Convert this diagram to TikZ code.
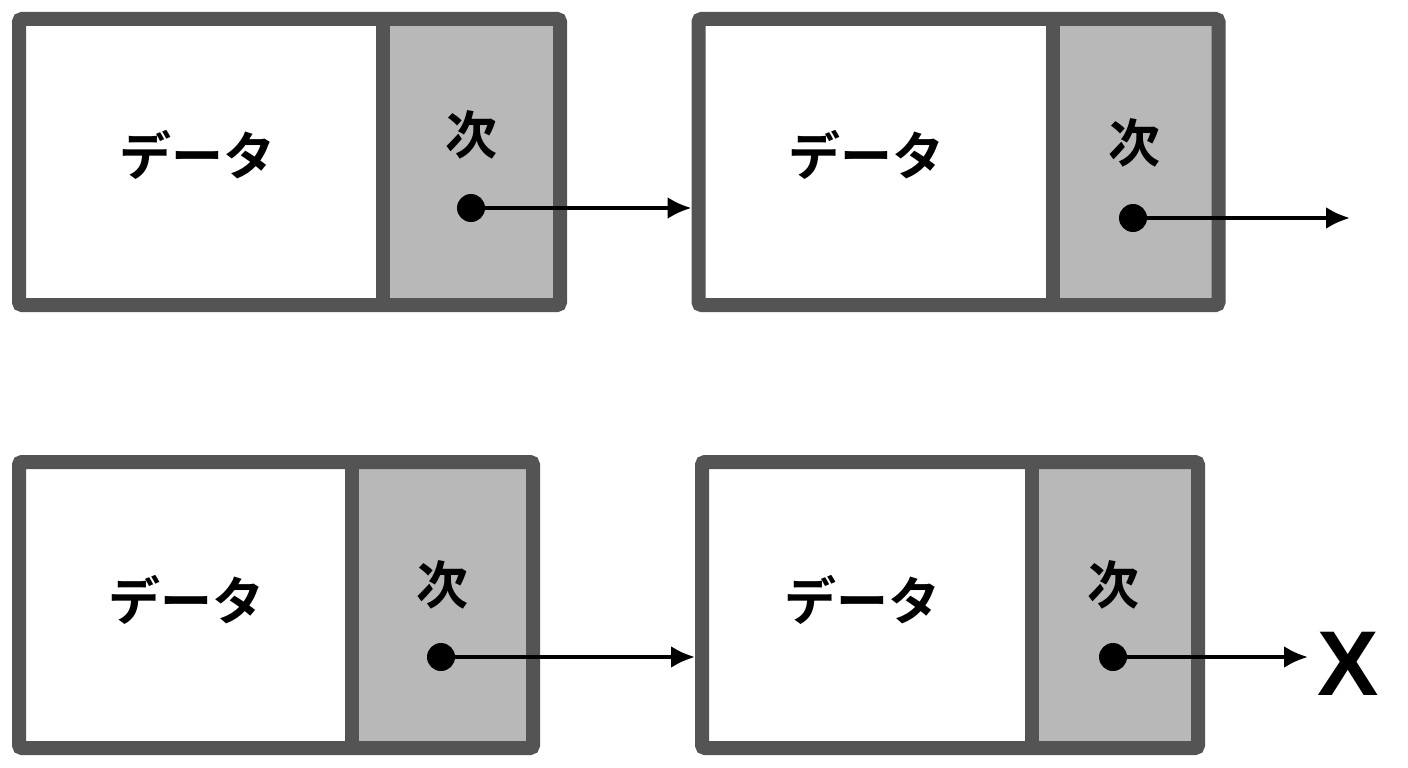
\documentclass[tikz,border=0pt]{standalone}
\usetikzlibrary{arrows.meta}
\usepackage{fontspec}
\newfontfamily\jp{Noto Sans CJK JP}[BoldFont={* Bold}]
\setmainfont{Liberation Sans}
\begin{document}
\begin{tikzpicture}[x=1pt,y=-1pt,
  wall/.style={draw=black!67, line width=14pt},
  box/.style={wall, rounded corners=3pt, inner sep=0pt},
  cell/.style={fill=black!28},
  dot/.style={circle, fill=black, inner sep=0pt, minimum size=28pt},
  arr/.style={line width=4pt, -{Latex[length=24pt,width=22pt]}},
  lbl/.style={font=\jp\bfseries\fontsize{52}{52}\selectfont}]
\useasboundingbox[fill=white] (0,0) rectangle (1408,768);
% gray cells
\fill[cell] (383,19) rectangle (560,305);
\fill[cell] (1053,19) rectangle (1215,305);
\fill[cell] (352,462) rectangle (533,748);
\fill[cell] (1032,462) rectangle (1198,748);
% boxes
\node[box, minimum width=541pt, minimum height=286pt] (b1) at (289.5,162) {};
\node[box, minimum width=520pt, minimum height=286pt] (b2) at (958.5,162) {};
\node[box, minimum width=514pt, minimum height=286pt] (b3) at (276,605) {};
\node[box, minimum width=496pt, minimum height=286pt] (b4) at (950,605) {};
\draw[wall] (383,19) -- (383,305);
\draw[wall] (1053,19) -- (1053,305);
\draw[wall] (352,462) -- (352,748);
\draw[wall] (1032,462) -- (1032,748);
% labels
\node[lbl] (d1) at (197,155) {データ};
\node[lbl] (d2) at (866,155) {データ};
\node[lbl] (d3) at (186,600) {データ};
\node[lbl] (d4) at (862,600) {データ};
\node[lbl] (n1) at (471,135) {次};
\node[lbl] (n2) at (1134,143) {次};
\node[lbl] (n3) at (442,585) {次};
\node[lbl] (n4) at (1113,585) {次};
% dots
\node[dot] (p1) at (471,208) {};
\node[dot] (p2) at (1133,218) {};
\node[dot] (p3) at (441,657) {};
\node[dot] (p4) at (1113,657) {};
\coordinate (e2) at (1350,218);
\node[font=\bfseries\fontsize{92}{92}\selectfont, inner sep=0pt] (x) at (1348,664) {X};
\coordinate (e4) at (1308,657);
\draw[arr] (p1.center) -- (b2.west |- p1);
\draw[arr] (p2.center) -- (e2);
\draw[arr] (p3.center) -- (b4.west |- p3);
\draw[arr] (p4.center) -- (e4);
\end{tikzpicture}
\end{document}
